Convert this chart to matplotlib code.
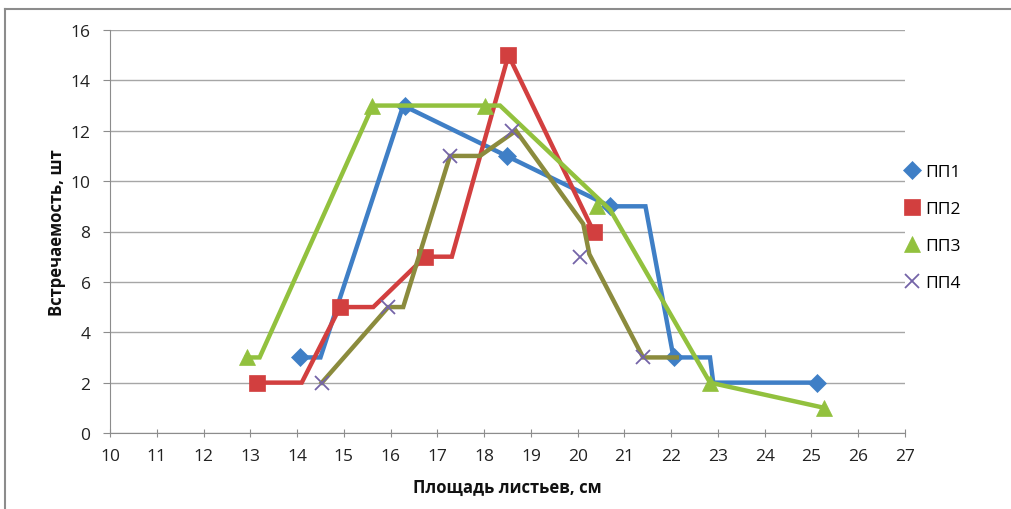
import matplotlib
matplotlib.use("Agg")
import matplotlib.pyplot as plt
from matplotlib.lines import Line2D
import numpy as np

plt.rcParams['font.family'] = ['Open Sans', 'DejaVu Sans']

series_names = ['ПП1', 'ПП2', 'ПП3', 'ПП4']

# markers (x = leaf area, y = count)
pp1_x = [14.06, 16.3, 18.48, 20.69, 22.06, 25.11]
pp1_y = [3, 13, 11, 9, 3, 2]
pp2_x = [13.14, 14.92, 16.74, 18.52, 20.34]
pp2_y = [2, 5, 7, 15, 8]
pp3_x = [12.92, 15.6, 18.02, 20.42, 22.83, 25.27]
pp3_y = [3, 13, 13, 9, 2, 1]
pp4_x = [14.53, 15.95, 17.27, 18.6, 20.05, 21.4]
pp4_y = [2, 5, 11, 12, 7, 3]

# connecting lines as drawn in the original
pp1_lx = [14.06, 14.5, 16.27, 18.48, 20.69, 21.45, 22.05, 22.83, 22.9, 25.11]
pp1_ly = [3, 3, 13, 11, 9, 9, 3, 3, 2, 2]
pp2_lx = [13.14, 14.1, 14.92, 15.63, 16.74, 17.31, 18.52, 20.34]
pp2_ly = [2, 2, 5, 5, 7, 7, 15, 8]
pp3_lx = [12.92, 13.2, 15.62, 18.34, 20.7, 22.83, 25.27]
pp3_ly = [3, 3, 13, 13, 8.85, 2, 1]
pp4_lx = [14.53, 15.95, 16.27, 17.27, 17.91, 18.68, 20.12, 20.25, 21.4, 22.12]
pp4_ly = [2, 5, 5, 11, 11, 12, 8.3, 7.1, 3, 3]

x_ticks = list(range(10, 28))
y_ticks = list(range(0, 17, 2))

fig = plt.figure(figsize=(10.12, 5.10), dpi=100)
ax = fig.add_axes([110 / 1012, 76 / 510, 795 / 1012, 403 / 510])

line_cols = ['#3F7FC6', '#D23F3F', '#92C13E', '#8B8B3D']
mark_cols = ['#3F7FC6', '#D23F3F', '#92C13E', '#7464A8']
markers = ['D', 's', '^', 'x']
msizes = [9, 11, 11, 10]

lines = [(pp1_lx, pp1_ly), (pp2_lx, pp2_ly), (pp3_lx, pp3_ly), (pp4_lx, pp4_ly)]
points = [(pp1_x, pp1_y), (pp2_x, pp2_y), (pp3_x, pp3_y), (pp4_x, pp4_y)]

for i, name in enumerate(series_names):
    lx, ly = lines[i]
    ax.plot(lx, ly, color=line_cols[i], lw=3.2, zorder=3 + i, solid_joinstyle='miter')
    px, py = points[i]
    ax.plot(px, py, linestyle='none', marker=markers[i], markersize=msizes[i],
            color=mark_cols[i], markeredgewidth=1.3 if markers[i] == 'x' else 0.5,
            label=name, zorder=3 + i)

ax.set_xlim(10, 27)
ax.set_ylim(0, 16)
ax.set_xticks(x_ticks)
ax.set_yticks(y_ticks)
ax.yaxis.grid(True, color='#A6A6A6', lw=1)
ax.set_axisbelow(True)
for s in ['top', 'right']:
    ax.spines[s].set_visible(False)
for s in ['left', 'bottom']:
    ax.spines[s].set_color('#8C8C8C')
ax.tick_params(axis='both', colors='#8C8C8C', labelcolor='#222222', labelsize=12.5, length=5)
ax.tick_params(axis='y', pad=9)
ax.tick_params(axis='x', direction='inout', length=6, pad=8)

ax.set_xlabel('Площадь листьев, см', fontsize=12, fontweight='bold', labelpad=10, color='#111111')
ax.set_ylabel('Встречаемость, шт', fontsize=12, fontweight='bold', labelpad=3, color='#111111')

ax.legend(loc='center left', bbox_to_anchor=(0.998, 0.51), frameon=False,
          handlelength=1.0, handletextpad=0.25, labelspacing=1.2,
          borderaxespad=0, borderpad=0, fontsize=12.5)

# outer chart-area border
fig.add_artist(Line2D([5 / 1012, 1], [1 - 10 / 510, 1 - 10 / 510], color='#8C8C8C', lw=1.5))
fig.add_artist(Line2D([5 / 1012, 5 / 1012], [0, 1 - 10 / 510], color='#8C8C8C', lw=1.5))

fig.savefig('out.png', dpi=100)
